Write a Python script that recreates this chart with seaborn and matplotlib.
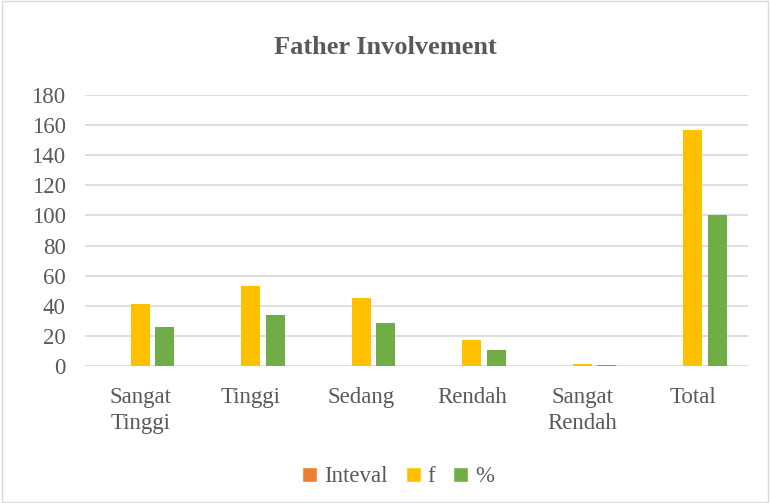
import seaborn as sns
import matplotlib.pyplot as plt
import pandas as pd
from matplotlib.patches import Rectangle, Patch

categories = ["Sangat\nTinggi", "Tinggi", "Sedang", "Rendah", "Sangat\nRendah", "Total"]
series = ["Inteval", "f", "%"]
inteval = [0, 0, 0, 0, 0, 0]
f_vals = [41, 53, 45, 17, 1, 157]
pct_vals = [26.1, 33.8, 28.7, 10.8, 0.6, 100]
colors = ["#ED7D31", "#FFC000", "#70AD47"]

rows = []
for name, vals in zip(series, [inteval, f_vals, pct_vals]):
    for cat, v in zip(categories, vals):
        rows.append({"kategori": cat, "seri": name, "nilai": v})
df = pd.DataFrame(rows)

sns.set_style("white")
plt.rcParams["font.family"] = ["Liberation Serif", "DejaVu Serif"]
text_col = "#595959"

fig = plt.figure(figsize=(7.7, 5.03), dpi=100)
ax = fig.add_axes([0.1104, 0.2724, 0.8610, 0.5387])

sns.barplot(data=df, x="kategori", y="nilai", hue="seri", order=categories,
            hue_order=series, palette=colors, width=0.66, gap=0.22,
            linewidth=0, saturation=1, legend=False, ax=ax)

ax.set_ylim(0, 180)
ax.set_yticks(range(0, 181, 20))
ax.set_xlim(-0.5, 5.5)
ax.yaxis.grid(True, color="#D9D9D9", linewidth=1.2)
ax.set_axisbelow(True)
for s in ax.spines.values():
    s.set_visible(False)
ax.tick_params(axis="both", length=0, labelsize=16.5, colors=text_col)
ax.tick_params(axis="y", pad=14)
ax.tick_params(axis="x", pad=15)
for lab in ax.get_xticklabels():
    lab.set_linespacing(1.35)
ax.set_xlabel("")
ax.set_ylabel("")

fig.text(0.5, 0.905, "Father Involvement", ha="center", va="center",
         fontsize=19, fontweight="bold", color=text_col)

handles = [Patch(facecolor=c, label=n) for c, n in zip(colors, series)]
fig.legend(handles=handles, loc="center", bbox_to_anchor=(0.517, 0.052), ncol=3,
           frameon=False, fontsize=16.5, handlelength=0.65, handleheight=0.65,
           handletextpad=0.3, columnspacing=0.8, labelcolor=text_col)

fig.patches.append(Rectangle((0.002, 0.002), 0.996, 0.996, transform=fig.transFigure,
                             fill=False, edgecolor="#D9D9D9", linewidth=1))

fig.savefig("out.png", dpi=100)
